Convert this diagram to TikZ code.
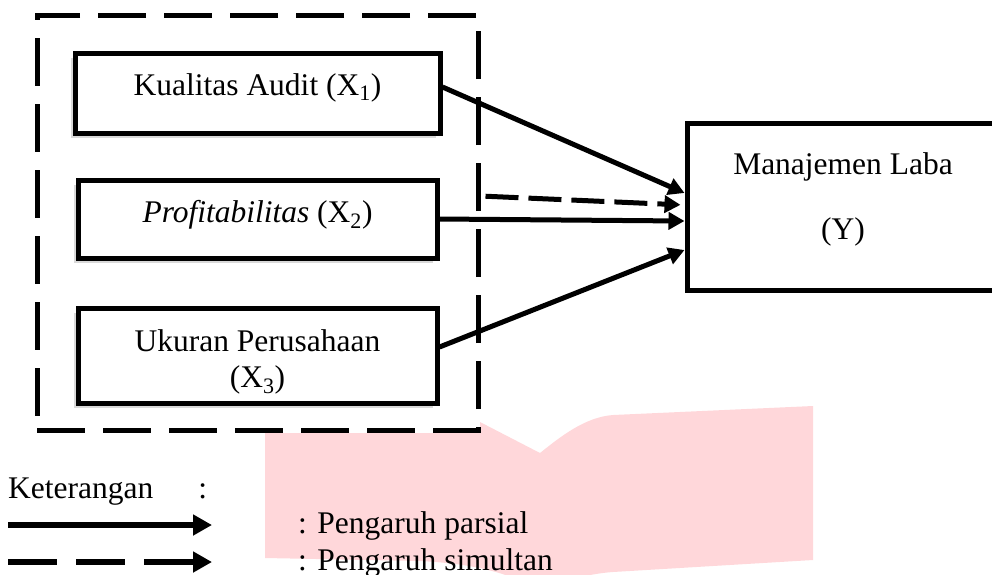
\documentclass[tikz,border=0pt]{standalone}
\usepackage{fontspec}
\setmainfont{Liberation Serif}
\usepackage{xcolor}
\usetikzlibrary{arrows.meta,shadows}
\definecolor{wmpink}{HTML}{FFD7DA}
\tikzset{
    var/.style={rectangle, draw, fill=white, line width=5pt, inner sep=0pt, minimum width=359pt, align=center, drop shadow={shadow xshift=-4pt, shadow yshift=-5pt, opacity=0.3}},
    dep/.style={rectangle, draw, fill=white, line width=5pt, inner sep=0pt, align=center},
    group/.style={rectangle, draw, line width=5pt, dash pattern=on 48pt off 18pt},
    line/.style={draw, line width=5pt, -{Triangle[length=16pt,width=17pt]}},
    dline/.style={line, dash pattern=on 33pt off 10pt},
    legline/.style={draw, line width=6.5pt, -{Triangle[length=19pt,width=20pt]}},
    legtext/.style={anchor=base west, inner sep=0pt}
}

\begin{document}
\begin{tikzpicture}[x=1pt, y=-1pt, font=\fontsize{31.5}{36}\selectfont]
    \useasboundingbox (0,0) rectangle (992,574);
    % watermark behind the diagram
    \fill[wmpink] (480,422) -- (540,453) -- (540,592) .. controls (515,575) and (480,564) .. (420,561) -- (265,558) -- (265,433) -- (480,433) -- cycle;
    \fill[wmpink] (540,453) .. controls (560,437) and (585,417) .. (613,415) -- (813,406) -- (813,560) -- (613,572) .. controls (585,574) and (560,582) .. (540,592) -- cycle;
    % simultaneous group
    \node[group, minimum width=441pt, minimum height=415pt] (simul) at (257.5,222.5) {};
    % X1
    \node[var, minimum width=365pt, text height=42pt, text depth=38pt] (audit) at (257.5,93) {Kualitas Audit (X\textsubscript{1})};
    % X2
    \node[var, text height=42pt, text depth=36pt] (profit) at (257.5,219) {\textit{Profitabilitas} (X\textsubscript{2})};
    % X3
    \node[var, text height=79pt, text depth=16pt] (ukuran) at (257.5,355.5) {Ukuran Perusahaan\\(X\textsubscript{3})};
    % Y
    \node[dep, minimum width=312pt, text height=116pt, text depth=51pt] (laba) at (843,206.5) {Manajemen Laba\\[29pt](Y)};

    \draw[line] ([yshift=6pt]audit.east) -- ([yshift=13.5pt]laba.west);
    \draw[line] (profit.east) -- ([yshift=-14.5pt]laba.west);
    \draw[line] ([yshift=8.5pt]ukuran.east) -- ([yshift=-43.5pt]laba.west);
    \draw[dline, shorten <=5pt, shorten >=4pt] ([yshift=26.5pt]simul.east) -- ([yshift=1.5pt]laba.west);

    % legend
    \node[legtext] (ket) at (8,498) {Keterangan\hspace{45pt}:};
    \coordinate (pa) at (8,525);
    \coordinate (pb) at (212,525);
    \coordinate (sa) at (8,562);
    \coordinate (sb) at (212,562);
    \draw[legline] (pa) -- (pb);
    \draw[legline, dash pattern=on 49pt off 19pt] (sa) -- (sb);
    \node[legtext] (parsial) at (298,533) {: Pengaruh parsial};
    \node[legtext] (simultan) at (298,570) {: Pengaruh simultan};
\end{tikzpicture}
\end{document}
